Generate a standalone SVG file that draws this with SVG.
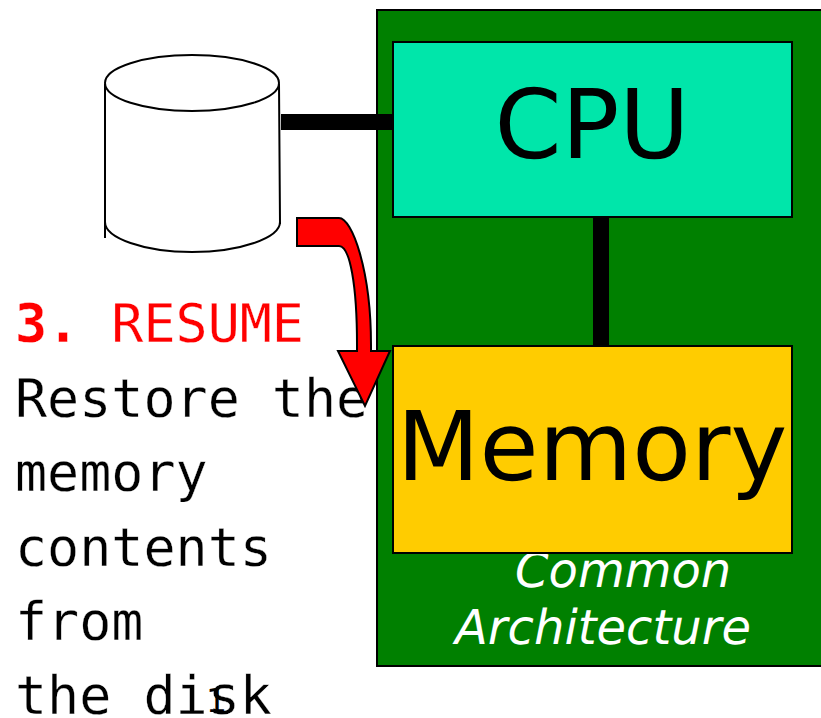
<svg xmlns="http://www.w3.org/2000/svg" width="821" height="718" viewBox="0 0 821 718">
<style>
text{text-rendering:geometricPrecision}
.box{stroke:#000;stroke-width:2}
.sans{font-family:"DejaVu Sans",sans-serif}
.mono{font-family:"DejaVu Sans Mono",monospace;font-size:53.33px;stroke:#fff;stroke-width:.3px}
.big{font-size:96px;text-anchor:middle}
.it{font-size:48px;font-style:italic;fill:#fff}
.bus{stroke:#000;stroke-width:16;fill:none}
.line{fill:none;stroke:#000;stroke-width:2}
</style>
<rect x="0" y="0" width="821" height="718" fill="#fff"/>
<g id="architecture">
<rect class="box" x="377" y="10" width="445" height="656" fill="#008000"/>
<text class="sans it" x="515" y="587">Common</text>
<text class="sans it" x="455" y="644">Architecture</text>
</g>
<g id="connectors">
<path class="bus" d="M281 122H393"/>
<path class="bus" d="M601 217V346"/>
</g>
<g id="disk">
<path class="line" d="M105 84V238M279 84L280 224"/>
<path class="line" d="M105 222C105 238 144 252 192 252C240 252 280 238 280 222"/>
<ellipse cx="192" cy="83" rx="87" ry="28" fill="#fff" stroke="#000" stroke-width="2"/>
</g>
<g id="cpu">
<rect class="box" x="393" y="42" width="399" height="175" fill="#00e6aa"/>
<text class="sans big" x="592" y="158">CPU</text>
</g>
<g id="memory">
<rect class="box" x="393" y="346" width="399" height="207" fill="#ffcc00"/>
<text class="sans big" x="592" y="480">Memory</text>
</g>
<g id="label">
<text class="mono" x="15" y="342" fill="#f00"><tspan font-weight="bold">3.</tspan> RESUME</text>
<text class="mono" x="15" y="417">Restore the</text>
<text class="mono" x="15" y="491">memory</text>
<text class="mono" x="15" y="566">contents</text>
<text class="mono" x="15" y="640">from</text>
<text class="mono" x="15" y="714">the disk</text>
<text class="sans" x="206" y="712" font-size="33" fill="#000">1</text>
</g>
<g id="resume-connector">
<path id="resume-arrow" d="M297 218H339C352 218 371 270 371 345V351H390L365 406L338 351H357V345C357 285 350 246 339 246H297Z" fill="#f00" stroke="#000" stroke-width="2"/>
</g>
</svg>
